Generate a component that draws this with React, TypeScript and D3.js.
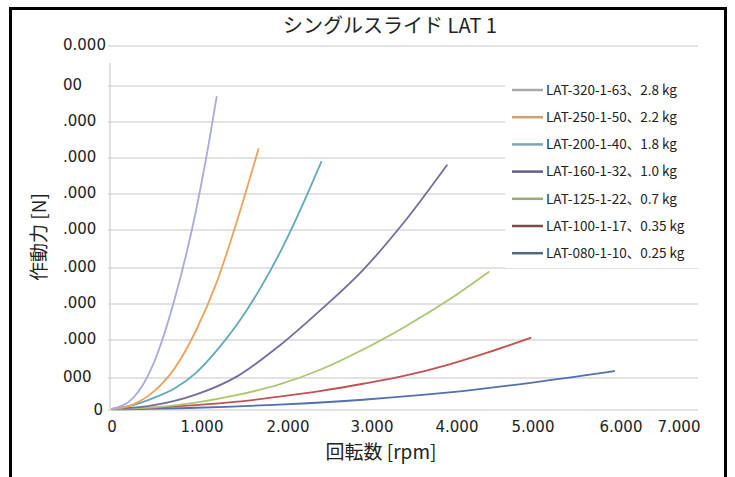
import React from "react";
import * as d3 from "d3";

const W = 735;
const H = 477;

const titleText = "シングルスライド LAT 1";
const xTitle = "回転数 [rpm]";
const yTitle = "作動力 [N]";

const seriesNames = [
  "LAT-320-1-63、2.8 kg",
  "LAT-250-1-50、2.2 kg",
  "LAT-200-1-40、1.8 kg",
  "LAT-160-1-32、1.0 kg",
  "LAT-125-1-22、0.7 kg",
  "LAT-100-1-17、0.35 kg",
  "LAT-080-1-10、0.25 kg",
];

// [rpm, N]
const lat320: [number, number][] = [[0, 30], [250, 370], [500, 1400], [750, 3150], [1000, 5500], [1125, 7000], [1250, 8700]];
const lat250: [number, number][] = [[0, 30], [250, 170], [500, 580], [750, 1260], [1000, 2250], [1250, 3600], [1500, 5300], [1750, 7250]];
const lat200: [number, number][] = [[0, 30], [250, 150], [500, 380], [750, 680], [1000, 1130], [1250, 1720], [1500, 2450], [1750, 3350], [2000, 4380], [2250, 5560], [2500, 6890]];
const lat160: [number, number][] = [[0, 30], [500, 150], [1000, 480], [1500, 1050], [2000, 1850], [2500, 2850], [3000, 3950], [3500, 5250], [4000, 6800]];
const lat125: [number, number][] = [[0, 30], [500, 80], [1000, 230], [1500, 470], [2000, 800], [2500, 1230], [3000, 1750], [3500, 2370], [4000, 3080], [4500, 3890]];
const lat100: [number, number][] = [[0, 40], [500, 70], [1000, 150], [1500, 260], [2000, 420], [2500, 600], [3000, 820], [3500, 1060], [4000, 1340], [4500, 1680], [5000, 2060]];
const lat080: [number, number][] = [[0, 20], [1000, 70], [2000, 170], [3000, 320], [4000, 540], [5000, 850], [6000, 1180]];

const seriesData = [lat320, lat250, lat200, lat160, lat125, lat100, lat080];
const lineColors = ["#a9a9de", "#e9a35c", "#5eaabb", "#716e9f", "#aac66f", "#c2524f", "#5071ad"];
const legendColors = ["#a8a8a8", "#cf9d70", "#7ea5b4", "#625c8c", "#9aab76", "#7d4b47", "#51697f"];

const xTicks = [0, 1000, 2000, 3000, 4000, 5000, 6000, 7000];
const xTickLabels = ["0", "1.000", "2.000", "3.000", "4.000", "5.000", "6.000", "7.000"];
const yTicks = [0, 1000, 2000, 3000, 4000, 5000, 6000, 7000, 8000, 9000, 10000];
const yTickLabels = ["0", "000", ".000", ".000", ".000", ".000", ".000", ".000", ".000", "00", "0.000"];

// plot geometry
const plotLeft = 112;
const plotRight = 698;
// tick label anchors sit slightly off the true tick positions
const xLabelRange = [112, 202, 288, 372, 457, 533, 621, 679];
const yRange = [410, 378, 340, 304, 268, 230, 194, 158, 122, 86, 46];

const numFont = "'DejaVu Sans', sans-serif";
const jpFont = "'Noto Sans CJK JP', sans-serif";

export default function App() {
  const x = d3.scaleLinear().domain([0, 7000]).range([plotLeft, plotRight]);
  const xLabelAt = d3.scaleLinear().domain(xTicks).range(xLabelRange);
  const y = d3.scaleLinear().domain(yTicks).range(yRange);
  const line = d3
    .line<[number, number]>()
    .x((d) => x(d[0]))
    .y((d) => y(d[1]))
    .curve(d3.curveMonotoneX);

  const axisX = 110;
  const legX = 512;
  const legY0 = 90;
  const legStep = 27.2;

  return (
    <svg
      width={W}
      height={H}
      style={{ position: "absolute", left: 0, top: 0, background: "#fff" }}
    >
      <rect x={0} y={0} width={W} height={H} fill="#fff" />
      {/* chart frame */}
      <rect x={10.5} y={8.5} width={715} height={500} fill="none" stroke="#000" strokeWidth={3} />

      <text x={390} y={33} textAnchor="middle" fontFamily={jpFont} fontSize={20} fill="#222">
        {titleText}
      </text>

      {/* horizontal grid */}
      {yTicks.map((t, i) => (
        <line key={"g" + i} x1={axisX - 2} x2={x(7000)} y1={y(t)} y2={y(t)} stroke="#d9d9d9" strokeWidth={1.5} />
      ))}
      <line x1={axisX} x2={axisX} y1={63} y2={y(0)} stroke="#d6d6d6" strokeWidth={1.5} />

      {/* y tick labels */}
      {yTicks.map((t, i) =>
        yTickLabels[i] === "0" ? (
          <text key={"yl" + i} x={103} y={y(t)} dy="0.35em" textAnchor="end" fontFamily={numFont} fontSize={15} fill="#222">
            {yTickLabels[i]}
          </text>
        ) : (
          <text key={"yl" + i} x={63} y={y(t) - 1} dy="0.35em" textAnchor="start" fontFamily={numFont} fontSize={15} fill="#222">
            {yTickLabels[i]}
          </text>
        )
      )}

      {/* x tick labels */}
      {xTicks.map((t, i) => (
        <text key={"xl" + i} x={xLabelAt(t)} y={427} dy="0.35em" textAnchor="middle" fontFamily={numFont} fontSize={15} fill="#222">
          {xTickLabels[i]}
        </text>
      ))}

      <text x={381} y={452} dy="0.35em" textAnchor="middle" fontFamily={jpFont} fontSize={19} fill="#222">
        {xTitle}
      </text>
      <text
        transform={`translate(39,237) rotate(-90)`}
        dy="0.35em"
        textAnchor="middle"
        fontFamily={jpFont}
        fontSize={19}
        fill="#222"
      >
        {yTitle}
      </text>

      {/* legend */}
      <rect x={505} y={72} width={195} height={196} fill="#fff" />
      {seriesNames.map((name, i) => (
        <g key={"lg" + i}>
          <line x1={legX} x2={legX + 31} y1={legY0 + i * legStep} y2={legY0 + i * legStep} stroke={legendColors[i]} strokeWidth={2.5} />
          <text x={legX + 34} y={legY0 + i * legStep} dy="0.35em" fontFamily={jpFont} fontSize={13.5} fill="#222">
            {name}
          </text>
        </g>
      ))}

      {/* series, drawn bottom-up so the steep curves stay on top */}
      {seriesData
        .map((d, i) => ({ d, i }))
        .reverse()
        .map(({ d, i }) => (
          <path key={"s" + i} d={line(d) || ""} fill="none" stroke={lineColors[i]} strokeWidth={1.8} strokeLinejoin="round" strokeLinecap="round" />
        ))}
    </svg>
  );
}
